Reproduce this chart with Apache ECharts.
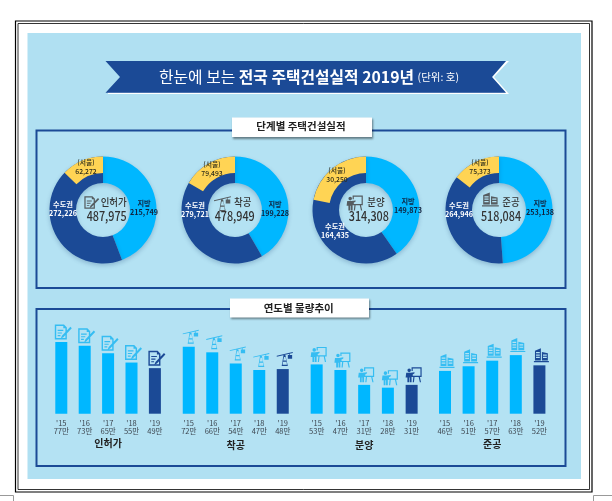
<!DOCTYPE html>
<html><head><meta charset="utf-8">
<style>html,body{margin:0;padding:0;background:#fff}#c{width:612px;height:501px}</style>
<script src="https://cdn.jsdelivr.net/npm/echarts@6/dist/echarts.min.js"></script>
</head><body><div id="c"></div>
<script>
const stageNames = ['인허가','착공','분양','준공'];
const sliceNames = ['지방','수도권','(서울)'];
const totals = ['487,975','478,949','314,308','518,084'];
const localLabels = ['215,749','199,228','149,873','253,138'];
const metroLabels = ['272,226','279,721','164,435','264,946'];
const seoulLabels = ['62,272','79,493','30,250','75,373'];
// drawn slice sizes: local, metro outside Seoul, Seoul
const arcPermit = [215749, 209954, 62272];
const arcStart  = [199228, 200228, 79493];
const arcSale   = [126600, 118740, 68968];
const arcDone   = [253138, 189573, 75373];
const years = ["'15","'16","'17","'18","'19"];
const yearPermit = [77,73,65,55,49];
const yearStart  = [72,66,54,47,48];
const yearSale   = [53,47,31,28,31];
const yearDone   = [46,51,57,63,52];

const NAVY='#1b4a96', SKY='#00b7ff', YEL='#ffd454', BG='#b0e0f2', FONT='"Noto Sans CJK KR","Noto Sans",sans-serif';
const pathDoc='M3 2H16L20 6V22H3ZM5 4V20H18V7H15V4ZM7 9V10.5H15V9ZM7 12.5V14H13V12.5ZM7 16V17.5H11V16ZM25 5L27 7L15 19L11.5 20.5L13 17Z';
const pathCrane='M0 8L26 2L26 3.5L0 9.5ZM11 7H14L18 25H8ZM11.8 10L10.5 16H15.5L14.2 10ZM10 18L9.5 23H16.5L16 18ZM20 4H21V7H25V13H18V7H20Z';
const pathTalk='M4 6a3 3 0 1 0 6 0a3 3 0 1 0 -6 0ZM2 10H9L16 9V11L11 14V26H8V18H7V26H4V18H1ZM11 1H28V17H11V14L13 13V15H26V3H13V7H11ZM14 17H16L15 26H13ZM23 17H25L27 26H25Z';
const pathTower='M2 5L13 1V21H2ZM4 7V9H11V7ZM4 11V13H11V11ZM4 15V17H11V15ZM15 7L26 9V21H15ZM17 11V13H24V11ZM17 15V17H24V15ZM0 22H28V24H0Z';
const paths=[pathDoc,pathCrane,pathTalk,pathTower];
paths.forEach((p,i)=>echarts.graphic.registerShape('icon'+i,echarts.graphic.extendPath(p,{})));
const arcs=[arcPermit,arcStart,arcSale,arcDone];
const yearly=[yearPermit,yearStart,yearSale,yearDone];

const centers=[[103,210],[235,210],[366,210],[499,210]];
const labelPos=[
 [[144,208],[63,209],[86,167]],
 [[275,209],[195,210],[212,169]],
 [[408,206],[335,231],[337,175]],
 [[540,208],[459,210],[480,167]]];
const gridBox=[[49.6,117],[177,117.5],[304.8,118.7],[433.2,118]];
const titleGap=[25,27,27,26];
const iconSize=[[17,15],[16,14],[16,15],[15,14]];
const centerIcon=[[82.5,195,.62],[214,195,.65],[346,195,.6],[482,192,.6]];
const centerLabel=[[113.7,202],[242.7,202],[376,202],[511,202]];
const numX=[106.7,234.7,368.8,501];

const series=[],grid=[],xAxis=[],yAxis=[],graphic=[];
const lab=[localLabels,metroLabels,seoulLabels];
const labColor=['#10233f','#fff','#2a2a1a'];
const labelStyle={show:true,position:'inside',fontFamily:FONT,fontWeight:600,fontSize:7.2,lineHeight:9.5};
arcs.forEach((arc,i)=>{
  // local + whole metro ring (the metro ring runs on under Seoul)
  series.push({type:'pie',center:centers[i],radius:[27,53.5],startAngle:90,clockwise:true,silent:true,z:3,
    itemStyle:{shadowColor:'rgba(20,60,110,.25)',shadowBlur:4,shadowOffsetY:2},
    label:Object.assign({},labelStyle,{formatter:p=>p.name+'\n'+lab[p.dataIndex][i]}),
    labelLine:{show:false},
    labelLayout:p=>({x:labelPos[i][p.dataIndex][0],y:labelPos[i][p.dataIndex][1],align:'center',verticalAlign:'middle',hideOverlap:false}),
    data:[
      {name:sliceNames[0],value:arc[0],itemStyle:{color:SKY},label:{color:labColor[0]}},
      {name:sliceNames[1],value:arc[1]+arc[2],itemStyle:{color:NAVY},label:{color:labColor[1]}}]});
  // Seoul band on the outer part of the ring
  series.push({type:'pie',center:centers[i],radius:[37,53.5],startAngle:90,clockwise:true,silent:true,z:4,
    label:{show:false},labelLine:{show:false},
    labelLayout:()=>({x:labelPos[i][2][0],y:labelPos[i][2][1],align:'center',verticalAlign:'middle',hideOverlap:false}),
    data:[
      {name:'',value:arc[0]+arc[1],itemStyle:{color:'rgba(0,0,0,0)'},label:{show:false}},
      {name:sliceNames[2],value:arc[2],itemStyle:{color:YEL},
       label:Object.assign({},labelStyle,{color:labColor[2],fontSize:6.8,lineHeight:8.5,fontWeight:500,
         formatter:p=>p.name+'\n'+seoulLabels[i]})}]});
  grid.push({left:gridBox[i][0],width:gridBox[i][1],top:320.7,height:93});
  const vals=yearly[i];
  xAxis.push({gridIndex:i,type:'category',data:years,axisLine:{show:false},axisTick:{show:false},
    axisLabel:{margin:5,interval:0,fontFamily:FONT,fontSize:7.5,lineHeight:8.5,color:'#3d4650',
      formatter:(v,k)=>v+'\n'+vals[k]+'만'},
    name:stageNames[i],nameLocation:'middle',nameGap:titleGap[i],
    nameTextStyle:{fontFamily:FONT,fontSize:10,fontWeight:'bold',color:'#222'}});
  yAxis.push({gridIndex:i,type:'value',min:0,max:100,show:false});
  series.push({type:'bar',xAxisIndex:i,yAxisIndex:i,barWidth:12,silent:true,z:3,
    data:vals.map((v,k)=>({value:v,itemStyle:{color:k===4?NAVY:SKY}}))});
  series.push({type:'scatter',xAxisIndex:i,yAxisIndex:i,silent:true,z:4,
    symbol:'path://'+paths[i],symbolSize:iconSize[i],symbolOffset:[2,-10],
    data:vals.map((v,k)=>({value:v,itemStyle:{color:k===4?NAVY:'#35bdf2',opacity:1}}))});
  const c=centerIcon[i];
  graphic.push({type:'icon'+i,z:10,x:c[0],y:c[1],scaleX:c[2],scaleY:c[2],style:{fill:'#555c60'}});
  graphic.push({type:'text',z:10,x:centerLabel[i][0],y:centerLabel[i][1],scaleX:.9,
    style:{text:stageNames[i],font:'500 10.5px '+FONT,fill:'#333',align:'center',verticalAlign:'middle'}});
  graphic.push({type:'text',z:10,x:numX[i],y:216,scaleX:.83,
    style:{text:totals[i],font:'500 13px '+FONT,fill:'#333',align:'center',verticalAlign:'middle'}});
});

const back=[
 {type:'rect',z:-10,shape:{x:15.5,y:21,width:576.5,height:471},style:{fill:'#fff',stroke:'#000',lineWidth:1.2}},
 {type:'rect',z:-10,shape:{x:18,y:23.5,width:571.5,height:466},style:{fill:'#fff',stroke:'#000',lineWidth:.8}},
 {type:'rect',z:-9,shape:{x:27.5,y:33,width:553.5,height:446},style:{fill:BG}},
 {type:'polyline',z:-9,shape:{points:[[0,495.5],[13.5,495.5],[13.5,501]]},style:{stroke:'#999',fill:'none',lineWidth:1}},
 {type:'polyline',z:-9,shape:{points:[[612,495.5],[593.5,495.5],[593.5,501]]},style:{stroke:'#999',fill:'none',lineWidth:1}},
 {type:'polygon',z:-8,shape:{points:[[108,94],[509,94],[494,77],[509,61],[506,61],[492,77],[506,92.5],[108,92.5]]},style:{fill:'#fff'}},
 {type:'polygon',z:-7,shape:{points:[[105.5,61],[506,61],[492,77],[506,92.7],[105.5,92.7],[120,77]]},style:{fill:NAVY}},
 {type:'text',z:-6,x:309,y:77,style:{text:'{a|한눈에 보는 }{b|전국 주택건설실적 2019년 }{c|(단위: 호)}',
   align:'center',verticalAlign:'middle',fill:'#fff',
   rich:{a:{fontFamily:FONT,fontSize:15.8,fill:'#fff',color:'#fff'},b:{fontFamily:FONT,fontSize:15.8,fontWeight:'bold',fill:'#fff',color:'#fff'},c:{fontFamily:FONT,fontSize:10.5,fill:'#fff',color:'#fff'}}}},
 {type:'rect',z:-8,shape:{x:36.5,y:130.5,width:529,height:157.5},style:{fill:'#b4e2f3',stroke:NAVY,lineWidth:2}},
 {type:'rect',z:-8,shape:{x:36.5,y:309,width:529,height:157},style:{fill:'#b4e2f3',stroke:NAVY,lineWidth:2}},
 {type:'rect',z:-7,shape:{x:232,y:117.5,width:140,height:19.5},style:{fill:'#fff',shadowColor:'rgba(0,0,0,.45)',shadowBlur:2,shadowOffsetX:1,shadowOffsetY:1.5}},
 {type:'rect',z:-7,shape:{x:230,y:298.5,width:139,height:19},style:{fill:'#fff',shadowColor:'rgba(0,0,0,.45)',shadowBlur:2,shadowOffsetX:1,shadowOffsetY:1.5}},
 {type:'text',z:-6,x:301,y:126.5,style:{text:'단계별 주택건설실적',font:'bold 10.5px '+FONT,fill:'#222',align:'center',verticalAlign:'middle'}},
 {type:'text',z:-6,x:298.7,y:307.7,style:{text:'연도별 물량추이',font:'bold 10.5px '+FONT,fill:'#222',align:'center',verticalAlign:'middle'}}
];

const chart=echarts.init(document.getElementById('c'),null,{renderer:'canvas'});
chart.setOption({animation:false,backgroundColor:'#fff',textStyle:{fontFamily:FONT},grid,xAxis,yAxis,series,graphic:back.concat(graphic)});
</script></body></html>
